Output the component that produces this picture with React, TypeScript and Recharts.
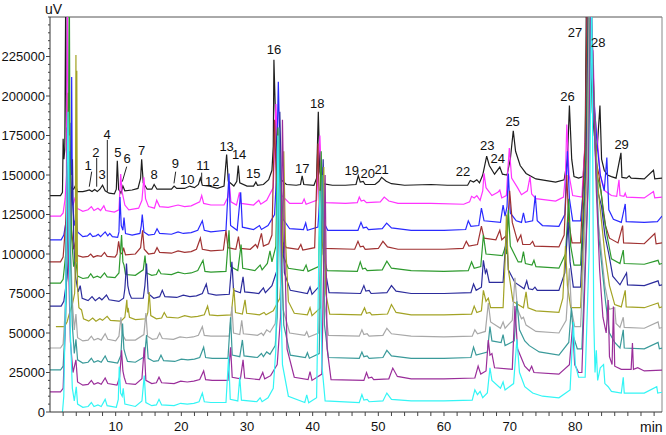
import React from 'react';
import { ComposedChart, Line, XAxis, YAxis, ReferenceLine, ReferenceDot } from 'recharts';

// Traces: flat [time(min), signal(k uV)] pairs
const blackTrace = [
0,137, 1.6,137, 1.9,139, 2.0,173, 2.12,160, 2.25,166, 2.4,270, 2.55,150, 2.7,163, 2.85,146, 3.2,142, 3.6,141, 3.9,143.5, 4.2,139.5, 5.0,139.5, 5.5,140, 6.0,140.5, 6.4,139.5, 6.8,140.8, 7.2,139.5, 7.6,141, 8.0,143.5, 8.4,140, 9.0,138.5, 9.8,138, 10.1,141, 10.25,159, 10.45,141, 10.8,138.5, 11.1,143, 11.4,140, 12.5,140.5, 13.4,141.5, 13.8,148, 13.96,160, 14.2,145, 14.8,141, 15.5,141, 15.86,144, 16.3,141, 17.5,141, 18.5,141, 18.9,143, 19.3,141.5, 20.5,141.5, 21.3,143, 22.0,142, 22.6,144, 22.9,148, 23.2,143.5, 24.3,143, 25.5,141.5, 26.5,143, 26.9,163, 27.15,146, 28.0,143, 28.45,146, 28.67,156, 28.9,145, 30,143, 31.0,143, 31.35,145.5, 31.6,143.5, 32.5,144, 33.3,147, 33.8,153, 34.0,168, 34.1,223, 34.35,185, 34.7,155, 35.2,147, 36.0,144, 37.5,143.5, 38.15,144, 38.4,149.5, 38.65,144, 40.2,143.5, 40.6,148, 40.86,190, 41.1,152, 41.5,144.5, 43,143.5, 45,143.5, 46.6,144, 46.95,149.5, 47.25,145.5, 47.7,146, 48.0,144, 49.5,144, 50.1,146, 50.5,148.5, 51.2,146, 52,144.5, 54,143.5, 58,144, 60.5,143.5, 63.6,143.5, 64.0,146.5, 64.5,145.5, 65.0,147, 65.4,145, 65.9,150, 66.5,162, 66.9,156, 67.7,150.5, 68.5,155, 68.9,150.5, 69.6,150, 70.1,160, 70.55,178, 70.9,165, 71.6,156, 72.5,151, 74,147.5, 77,145.5, 78.3,147, 78.8,160, 79.1,194, 79.45,160, 79.8,149, 80.5,148, 81.2,149, 81.5,170, 81.7,270, 82.2,240, 82.6,190, 82.9,175, 83.3,165, 83.75,194, 84.0,160, 84.4,153, 84.9,150, 85.5,149, 86.2,148, 86.95,164, 87.1,148.5, 87.8,148, 88.2,149.5, 88.5,148, 90.5,147.5, 91.9,153, 92.1,147.5, 93.2,148
];
const magentaTrace = [
0,124, 1.6,124, 2.0,126, 2.3,135, 2.5,150, 2.65,270, 2.85,160, 3.1,140, 3.5,131, 3.85,136, 4.1,129, 5,127, 5.8,128, 6.3,130, 6.7,127.5, 7.3,129, 7.7,127.5, 8.2,130.5, 8.5,127.5, 9.8,126.5, 10.5,128, 10.77,150.6, 10.95,140, 11.15,136, 11.4,131, 12,128, 13.5,129, 14.0,134, 14.3,148.6, 14.55,135, 15,130, 15.9,129, 16.25,134, 16.7,130, 18,129.5, 19.5,131, 20.5,130, 21.5,130.5, 22.8,133, 23.1,137, 23.4,132, 24.5,131, 26.5,131, 27.1,136, 27.3,145, 27.55,133, 28.4,131, 28.85,139, 29.1,132, 31.0,131, 31.8,134, 32.1,131.5, 33,134, 34.0,142, 34.4,195, 34.75,160, 35.3,137, 36.5,132, 38.4,132, 38.7,134.8, 39.0,131.5, 40.6,134, 41.1,175, 41.4,140, 42,132.5, 45,132, 46.8,132.5, 47.1,136, 47.4,133.5, 47.8,134, 48.2,132.5, 50.3,133, 50.9,136, 51.6,133.5, 53,132, 58,132, 63,131.5, 63.9,133, 64.2,136.5, 64.6,135.5, 65.0,137, 65.5,134, 65.9,140, 66.1,151, 66.4,142, 67.3,137, 68.2,139, 68.5,140.5, 68.8,135.5, 69.5,137, 69.75,155, 69.95,167, 70.3,148, 71.2,142, 71.8,137.5, 72.7,140, 73.1,149, 73.35,138, 74,135, 77,133.5, 78.2,136, 78.5,150, 78.7,182, 79.05,150, 79.6,137, 81,136, 81.6,180, 81.9,270, 82.3,210, 82.7,229, 82.95,190, 83.4,170, 83.8,150, 84.5,140, 85.5,137, 86.3,136.5, 86.65,147, 86.8,137, 87.4,136.5, 87.6,138.5, 87.8,136, 90.5,135.5, 91.9,139.5, 92.1,135.5, 93.2,136
];
const blueTrace = [
0,109, 1.7,109, 2.1,112, 2.5,122, 2.9,140, 3.1,150, 3.2,183, 3.25,150, 3.3,212, 3.4,135, 3.7,118, 4.0,124, 4.2,114, 5,111, 5.7,111.5, 6.1,113, 6.5,111, 7.0,111.5, 7.35,112.5, 7.7,111, 8.4,114, 8.8,111.5, 9.1,113, 9.5,111, 10.3,110.5, 10.5,114, 10.66,136, 10.85,118, 11.1,115, 11.27,123, 11.5,113, 12.5,112, 13.7,113, 13.9,118, 14.05,125, 14.3,114, 15,112, 15.9,112.5, 16.3,116, 16.7,113, 18.5,112.5, 19.5,114, 20.3,113, 21.5,113.5, 22.5,115, 23.2,121, 23.5,115, 24.5,114, 26.8,115, 27.26,151, 27.5,118, 28.5,115, 29.04,139, 29.3,117, 31.0,115.5, 31.9,118, 32.2,115.5, 33.2,118, 34.2,125, 34.5,150, 34.77,209, 35.1,150, 35.5,122, 36.5,116, 38.6,115.5, 38.94,119.6, 39.2,115, 40.8,117, 41.4,155, 41.7,120, 42.3,115, 46.9,115, 47.36,120, 47.7,116.5, 48.2,117, 48.5,115.5, 50.6,116, 51.27,119.5, 52,116.5, 55,115, 60,115, 63.3,115.5, 63.7,121, 64.1,117.5, 65.3,118, 65.7,129, 66.1,121, 68.6,120, 69.0,131, 69.3,124, 69.6,130, 69.8,151, 70.1,126, 71.0,121, 71.8,120, 72.1,126, 72.4,120, 73.5,121, 73.9,137, 74.2,121, 75,118, 77.5,117.5, 78.4,125, 78.8,165, 79.1,135, 79.6,121, 80.8,121, 81.6,160, 82.0,270, 82.4,230, 82.8,200, 83.3,170, 83.8,150, 84.4,140, 84.8,161, 85.1,128, 85.8,122, 87.0,120, 87.6,131.7, 87.75,120.5, 90.5,120, 92.5,120.5, 93.2,124
];
const darkRedTrace = [
0,95, 1.6,95, 2.0,98, 2.4,120, 2.65,160, 2.79,202, 2.95,150, 3.2,118, 3.6,103, 3.9,108, 4.2,99, 5,98, 5.8,98.5, 6.2,100, 6.6,98, 7.2,99, 7.8,98.5, 8.3,101, 8.7,98.5, 9.9,98, 10.2,100, 10.45,108, 10.7,101, 11.0,100, 11.2,104, 11.5,99.5, 13.0,100, 13.8,104, 14.1,115, 14.35,103, 15,100, 15.9,100.5, 16.3,104, 16.7,101, 18.5,100.5, 19.5,102, 20.5,101, 21.5,101.5, 22.3,103, 22.9,110, 23.2,103, 24.5,102, 26.4,102.5, 26.8,115, 27.1,104, 28.3,103, 28.7,111, 28.95,103.5, 30.5,103, 31.3,106, 31.6,104, 32.2,113, 32.5,105, 33.3,106.5, 33.8,112, 34.2,185, 34.5,140, 35.0,110, 36,104, 37.8,103, 38.2,106, 38.5,102.5, 40.3,104, 40.8,170, 41.1,115, 41.6,103.5, 46.4,103, 46.9,108, 47.25,104.5, 47.7,105, 48.0,103, 50.0,103.5, 50.7,108, 51.4,104.5, 53,103, 60,103, 62.9,103.5, 63.4,108, 63.8,105, 65.1,106, 65.7,117.7, 66.1,110, 67.9,109, 68.5,115, 68.8,109, 69.6,112, 70.0,140, 70.4,120, 71.2,108, 71.7,112, 72.0,106, 73.1,106, 73.5,108, 73.8,105, 77.5,104.5, 78.3,112, 78.7,150, 79.0,120, 79.5,107, 80.8,107, 81.5,170, 81.85,270, 82.3,240, 82.7,200, 83.1,160, 83.6,150, 84.2,130, 84.6,118, 85.2,110, 86.5,107, 87.2,118, 87.35,107, 90.5,106.5, 92.1,113, 92.3,106.5, 93.2,107
];
const greenTrace = [
0,81.6, 1.6,81.6, 2.0,84, 2.4,100, 2.7,140, 2.85,200, 2.94,270, 3.05,160, 3.3,110, 3.6,92, 3.9,97, 4.2,86, 5,84.5, 5.8,85, 6.2,87.5, 6.6,85, 7.2,86, 7.7,85, 8.3,88, 8.7,85.5, 9.9,85, 10.5,88, 10.9,112, 11.1,95, 11.27,93, 11.5,87, 13,86.5, 14.2,90, 14.47,99, 14.7,88, 15.5,86.5, 16.2,87, 16.55,90, 16.9,87.5, 18.5,87, 19.5,88.5, 20.5,87.5, 21.5,88, 22.5,89.5, 23.3,96, 23.6,89, 24.5,88.5, 26.8,89, 27.26,115, 27.5,92, 28.6,89.5, 29.1,106, 29.35,91, 31.2,89.5, 32.0,93, 32.3,90, 33.1,94, 33.5,102, 33.8,95, 34.4,105, 34.7,180, 35.0,140, 35.4,100, 36.3,91, 38.6,89.5, 39.0,93, 39.3,89, 40.9,92, 41.3,165, 41.6,100, 42.2,89.5, 46.8,89, 47.25,95, 47.6,90.5, 48.0,91, 48.3,89.5, 50.6,90, 51.3,95.5, 52,91, 55,89.5, 60,89, 63.7,89.5, 64.2,95, 64.6,91, 65.6,92, 66.0,112, 66.4,100, 68.9,99, 69.3,104, 69.55,100, 69.8,128, 70.1,105, 71.3,95, 71.8,95, 72.1,101.5, 72.4,94, 73.4,93, 73.7,96, 74.0,92, 77.5,91, 78.5,100, 79.0,135, 79.3,105, 79.8,93, 80.8,93, 81.6,160, 82.05,270, 82.5,230, 82.9,190, 83.3,150, 83.9,140, 84.3,125, 84.9,110, 85.5,97, 86.8,94, 87.3,102.5, 87.45,94, 90.5,93.5, 92.6,96, 92.8,93.5, 93.2,94
];
const navyTrace = [
0,67, 1.7,67, 2.1,70, 2.6,85, 3.0,110, 3.3,140, 3.42,160, 3.6,110, 3.9,85, 4.3,76, 4.6,80, 4.9,72, 5.8,70.5, 6.4,73, 6.9,70.5, 7.5,72.5, 7.9,71, 8.6,74, 9.0,71, 10.5,70, 11.2,72, 11.4,78, 11.65,94, 11.85,80, 12.1,75, 12.4,72, 14.2,72, 14.45,80, 14.7,94, 14.95,75, 15.8,72, 16.7,73, 17.1,77, 17.5,73, 19.3,72.5, 20.3,74, 21.3,73, 22.3,73.5, 23.2,75, 23.8,81, 24.1,75, 25.3,74, 27.3,74.5, 27.7,95, 27.95,77, 29.0,75.5, 29.4,85.6, 29.65,76, 31.8,75, 32.5,78.5, 32.8,75.5, 33.8,80, 34.6,90, 35.0,190, 35.3,130, 35.7,88, 36.6,77, 39.2,75, 39.6,79, 39.9,74.5, 41.1,80, 41.6,160, 41.9,90, 42.5,75.5, 47.3,75, 47.8,80, 48.1,76.5, 48.6,77, 48.9,75, 51.3,75.5, 52.0,80, 52.7,76.5, 55,75, 60,75, 64.1,75.5, 64.5,81, 64.9,77, 65.7,79, 66.0,96, 66.3,88, 66.5,90, 66.9,82, 69.0,82, 69.5,115, 69.8,90, 70.8,82, 72.2,78, 72.6,83, 72.9,78, 73.5,77.5, 73.85,79, 74.2,77, 77.5,77, 78.4,88, 78.9,120, 79.2,95, 79.7,79, 80.8,79, 81.7,160, 82.1,270, 82.5,220, 82.9,180, 83.4,140, 84.0,130, 84.5,112, 85.1,100, 85.7,86, 86.8,80.5, 87.8,88, 87.95,80.5, 90.5,80, 92.6,83, 92.8,80, 93.2,80.5
];
const oliveTrace = [
0.9,54, 2.2,54, 2.6,57, 3.0,63, 3.4,68, 3.75,75, 3.85,90, 3.95,226, 4.02,95, 4.08,216, 4.18,80, 4.4,66, 4.8,64.6, 5.1,59, 5.9,57.5, 6.5,59.5, 7.0,57.5, 7.6,59, 8.0,58, 8.7,60.5, 9.2,58, 10.8,57.5, 11.4,60, 11.7,71, 11.8,63, 11.9,66, 12.1,60, 13,58.5, 14.6,59, 14.9,63, 15.1,76, 15.35,61, 16.2,59, 17.0,59.5, 17.4,63, 17.8,60, 19.5,59.5, 20.5,61, 21.5,60, 22.5,60.5, 23.5,61.5, 24.0,67, 24.3,61.5, 25.5,61, 27.6,61.5, 28.0,78.5, 28.25,63, 29.3,62, 29.7,71, 29.95,62.5, 31.9,61.5, 32.6,63, 32.9,61.5, 34.0,64, 35.0,72, 35.4,100, 35.6,165, 35.85,110, 36.3,70, 37.2,62.5, 39.2,61.5, 39.6,66, 39.9,61, 41.2,66, 41.7,155, 42.0,75, 42.6,62, 47.4,61.5, 47.9,66, 48.2,62.5, 48.7,63, 49.0,61.5, 51.4,62, 52.0,68, 52.7,63, 55,61.5, 60,61.5, 64.2,62, 64.6,67, 65.0,63, 65.7,64, 66.0,77, 66.4,70, 66.75,72, 67.1,66, 69.0,66, 69.35,100, 69.5,125, 69.8,90, 70.5,70, 72.1,66, 72.5,76, 72.8,66, 74,64, 77.5,63, 78.1,72, 78.5,105, 78.8,80, 79.3,66, 80.8,66, 81.8,160, 82.2,270, 82.6,230, 83.0,180, 83.5,140, 84.0,120, 84.5,100, 85.2,80, 86.0,68, 87.0,66.5, 87.6,77, 87.75,66.5, 90.5,66, 92.6,69, 92.8,66, 93.2,66.5
];
const grayTrace = [
0,40.5, 1.6,40.5, 2.0,43, 2.4,70, 2.7,130, 2.9,175, 3.1,110, 3.4,70, 3.7,52, 3.95,62, 4.2,47, 5,45, 5.8,45.5, 6.3,48, 6.7,45.5, 7.3,46.5, 7.8,45.5, 8.4,49.5, 8.8,46, 10.0,45, 10.5,48, 10.8,60, 11.0,50, 11.2,48, 11.5,45.5, 13,45.5, 14.3,49, 14.6,62.6, 14.85,48, 15.6,46, 16.3,46.5, 16.7,50, 17.1,46.5, 18.8,46, 19.8,47.5, 20.8,47, 21.8,47.5, 22.6,48.5, 23.2,54, 23.5,48.5, 24.5,48, 27.3,48, 27.7,66.7, 27.95,50, 28.9,49, 29.2,58, 29.45,49.5, 31.6,48.5, 32.2,50, 32.5,48.5, 33.0,52, 33.5,50.5, 34.3,56, 34.6,70, 34.8,175, 35.1,110, 35.5,65, 36.5,50, 38.8,48.5, 39.1,50.8, 39.4,47.5, 40.9,50, 41.5,150, 41.8,70, 42.4,48.5, 47.1,48, 47.5,52, 47.8,49, 48.3,49.5, 48.6,48, 50.7,48.5, 51.3,53, 52,49.5, 55,48, 60,47.5, 64.3,48, 64.7,52, 65.1,49.5, 66.3,51, 66.75,69, 67.1,57, 68.6,53, 69.0,57, 69.3,53, 70.4,58, 70.8,85, 71.2,65, 71.8,59, 72.1,60, 72.5,55, 74,51, 77.5,50, 78.6,58, 79.1,91, 79.4,65, 79.9,54, 80.8,54, 81.8,150, 82.15,270, 82.6,230, 83.0,170, 83.5,120, 84.0,100, 84.5,80, 85.2,65, 86.0,66, 86.2,56, 86.8,53.5, 87.3,60, 87.45,53.5, 90.5,53, 92.6,57, 92.8,53, 93.2,53.5
];
const tealTrace = [
0,26.6, 1.6,26.6, 2.0,29, 2.4,60, 2.7,120, 2.9,165, 3.1,100, 3.4,55, 3.7,37, 3.95,46, 4.2,33, 5,31, 5.8,31.5, 6.3,34, 6.7,31.5, 7.3,32.5, 7.8,31.5, 8.4,35.5, 8.8,32, 10.3,31, 10.8,36, 11.05,56, 11.25,40, 11.5,36, 11.8,32, 13,31.5, 14.4,35, 14.7,48.7, 14.95,34, 15.8,32, 16.5,32.5, 16.9,36, 17.3,32.5, 19.0,32, 20.0,33.5, 21.0,33, 22.0,33.5, 22.8,34.5, 23.4,41, 23.7,34.5, 24.7,34, 27.1,34, 27.5,60, 27.75,36, 28.9,35, 29.3,45.6, 29.55,35.5, 31.6,34.5, 32.2,37, 32.5,35, 33.0,38, 33.5,36.5, 34.3,42, 34.6,60, 34.9,180, 35.2,110, 35.6,55, 36.6,36, 38.9,34.5, 39.2,37.5, 39.5,34, 41.0,37, 41.5,150, 41.8,55, 42.4,34.5, 47.1,34, 47.5,38, 47.8,35, 48.3,35.5, 48.6,34, 50.7,34.5, 51.3,39, 52,35.5, 55,34, 60,34, 64.1,34.5, 64.5,41, 64.9,36, 66.6,38, 67.0,54, 67.3,45, 68.7,44, 69.0,49, 69.3,42, 70.7,45, 71.1,70, 71.5,52, 72.3,45, 73,42, 74.5,38, 77.5,36, 79.0,44, 79.4,66, 79.7,48, 80.3,40, 81.0,40, 82.0,150, 82.3,270, 82.7,220, 83.1,160, 83.6,110, 84.1,90, 84.6,70, 85.2,50, 86.0,44, 86.8,40.5, 87.3,52, 87.45,40.5, 90.5,40, 92.6,44, 92.8,40, 93.2,40.5
];
const purpleTrace = [
0,12.7, 1.6,12.7, 2.0,15, 2.3,50, 2.5,120, 2.62,180, 2.8,100, 3.1,45, 3.5,25, 3.95,33, 4.2,19, 5,17, 5.8,17.5, 6.3,20, 6.7,17.5, 7.3,18.5, 7.8,17.5, 8.4,21.5, 8.8,18, 10.2,17, 10.6,22, 10.9,39, 11.1,26, 11.3,22, 11.6,18, 13,17.5, 14.0,21, 14.35,41, 14.6,20, 15.5,18, 16.2,18.5, 16.6,22, 17.0,18.5, 18.9,18, 19.9,19.5, 20.9,19, 21.9,19.5, 22.8,20.5, 23.4,26, 23.7,20.5, 24.7,20, 27.1,20, 27.5,41, 27.75,22, 29.0,21, 29.4,33, 29.65,21.5, 31.9,20.5, 32.4,25, 32.7,21, 33.6,23, 34.6,30, 35.1,60, 35.4,185, 35.7,110, 36.1,40, 37.2,22, 39.3,20.5, 39.6,25.5, 39.9,20, 41.4,24, 41.9,150, 42.2,40, 42.8,20.5, 47.8,20, 48.2,25, 48.5,21.5, 49.0,22, 49.3,20.5, 51.6,21, 52.2,27.8, 52.9,22.5, 55,21, 60,21, 64.7,21.5, 65.2,29, 65.6,24, 66.4,26, 66.75,45.6, 67.0,36, 67.3,37, 67.7,28, 70.4,27, 70.8,67, 71.2,40, 72.3,29, 73.0,26, 73.35,29, 73.7,25, 77.5,24, 79.1,30, 79.6,55, 79.9,30, 80.5,25, 81.0,25, 82.0,150, 82.4,270, 82.8,200, 83.2,140, 83.7,90, 84.2,60, 84.7,50, 85.0,70.9, 85.2,35, 85.6,30, 85.8,66.7, 86.0,29, 87.0,27, 88.5,27, 88.7,43.7, 88.85,27, 89.5,28, 90.5,26, 93.2,26.5
];
const cyanTrace = [
1.9,0, 2.1,10, 2.4,80, 2.6,150, 2.75,190, 2.9,120, 3.1,50, 3.4,15, 3.7,7, 4.0,16, 4.2,5, 5,3, 5.8,3.5, 6.3,6, 6.7,3.5, 7.3,4.5, 7.8,3.5, 8.4,8, 8.7,4, 10.1,3, 10.4,8, 10.55,28.7, 10.75,12, 11.0,10, 11.15,15, 11.4,5, 13,3.5, 14.0,7, 14.35,23, 14.6,6, 15.5,4, 16.2,4.5, 16.6,8, 17.0,4.5, 18.9,4, 19.9,5.5, 20.9,5, 21.9,5.5, 22.7,6.5, 23.2,12, 23.5,6.5, 24.5,6, 26.8,6, 27.2,35, 27.45,8, 28.6,7, 28.9,22, 29.15,7.5, 31.5,6.5, 32.0,9, 32.3,6.5, 33.2,9, 34.0,15, 34.4,40, 34.7,175, 35.0,100, 35.4,30, 36.3,10, 38.8,6, 39.1,10.8, 39.4,5.8, 40.6,9, 41.1,140, 41.4,30, 41.9,7, 47.1,6, 47.5,11, 47.8,7.5, 48.3,8, 48.6,6.5, 50.7,7, 51.3,12, 52,8, 55,7, 60,7, 64.3,7.5, 64.7,14, 65.1,11, 65.5,13, 65.9,9, 66.6,12, 67.0,28, 67.3,20, 68.6,15, 69.0,19, 69.3,14, 70.6,18, 71.1,46, 71.5,25, 72.3,16, 73.5,12, 75,10, 77.5,9, 79.2,14, 79.7,57, 80.0,30, 80.5,22, 81.5,22, 82.1,100, 82.5,270, 82.8,60, 83.0,25, 83.2,39, 83.4,20, 83.8,28, 84.3,30, 84.5,18, 85.0,16, 85.5,13, 87.0,12, 87.3,22, 87.45,12, 90.5,12, 92.4,16, 92.55,12, 93.2,12.5
];

const traceNames = ['black', 'magenta', 'blue', 'darkred', 'green', 'navy', 'olive', 'gray', 'teal', 'purple', 'cyan'];
const traceValues = [blackTrace, magentaTrace, blueTrace, darkRedTrace, greenTrace, navyTrace, oliveTrace, grayTrace, tealTrace, purpleTrace, cyanTrace];
const traceColors = ['#1e1e1e', '#ff33ff', '#2a2aff', '#a03232', '#2e9a2e', '#2c2c9c', '#a3a325', '#a8a8a8', '#3a9a9a', '#9a2e9a', '#33f5f5'];

// Peak labels: [name, time, signal(k uV)] at label centres
const peakLabels: [string, number, number][] = [
  ['1', 5.79, 156.3], ['2', 7.0, 164.6], ['3', 7.92, 150.6], ['4', 8.68, 175.8], ['5', 10.35, 164.6],
  ['6', 11.73, 160.3], ['7', 13.97, 165.8], ['8', 15.84, 150.6], ['9', 19.1, 157.6], ['10', 20.9, 147.5],
  ['11', 23.3, 156.3], ['12', 24.7, 145.8], ['13', 26.9, 168.4], ['14', 28.8, 162.8], ['15', 30.96, 151.0],
  ['16', 34.1, 229.6], ['17', 38.4, 154.5], ['18', 40.7, 195.4], ['19', 45.95, 153.2], ['20', 48.4, 151.0],
  ['21', 50.5, 153.6], ['22', 62.9, 152.0], ['23', 66.6, 169.0], ['24', 68.2, 160.8], ['25', 70.45, 184.0],
  ['26', 78.8, 199.6], ['27', 79.95, 240.3], ['28', 83.5, 233.8], ['29', 87.05, 169.4],
];
// Leader lines: [t1, v1, t2, v2] (k uV)
const leaderLines: [number, number, number, number][] = [
  [6.35, 152.1, 5.98, 142.6], [7.11, 160.8, 7.11, 142.6], [8.73, 172.2, 8.73, 139.4],
  [11.68, 155.3, 11.01, 145.8], [19.14, 152.1, 18.88, 144.7], [23.1, 151.5, 23.1, 145.1],
];

const yMajorTicks = [0, 25000, 50000, 75000, 100000, 125000, 150000, 175000, 200000, 225000];
const yAllTicks = Array.from({ length: 51 }, (_, i) => i * 5000);
const xMajorTicks = [10, 20, 30, 40, 50, 60, 70, 80];
const xAllTicks = Array.from({ length: 46 }, (_, i) => (i + 1) * 2);

const toPoints = (flat: number[]) => {
  const out: { t: number; v: number }[] = [];
  for (let i = 0; i < flat.length; i += 2) out.push({ t: flat[i], v: flat[i + 1] * 1000 });
  return out;
};

const FONT = 'Arial, "Liberation Sans", sans-serif';

const YTick = (props: any) => {
  const { x, y, payload } = props;
  const v = payload.value;
  const major = yMajorTicks.includes(v);
  return (
    <g>
      <line x1={x - (major ? 4 : 2)} x2={x} y1={y} y2={y} stroke="#444" strokeWidth={1} />
      {major && (
        <text x={x - 5} y={y} textAnchor="end" dominantBaseline="central" fontSize={13} fontFamily={FONT} fill="#111">
          {v}
        </text>
      )}
    </g>
  );
};

const XTick = (props: any) => {
  const { x, y, payload } = props;
  const v = payload.value;
  const major = xMajorTicks.includes(v);
  return (
    <g>
      <line x1={x} x2={x} y1={y} y2={y + 4} stroke="#444" strokeWidth={1} />
      {major && (
        <text x={x} y={y + 14} textAnchor="middle" dominantBaseline="central" fontSize={13} fontFamily={FONT} fill="#111">
          {v}
        </text>
      )}
    </g>
  );
};

export default function App() {
  const series = traceNames.map((n, i) => ({ name: n, data: toPoints(traceValues[i]), color: traceColors[i] }));
  return (
    <div style={{ position: 'absolute', left: 0, top: 0, width: 666, height: 435, background: '#fff' }}>
      <ComposedChart width={666} height={435} margin={{ top: 17, right: 4, bottom: 0, left: 0 }}>
        <XAxis
          type="number"
          dataKey="t"
          domain={[0, 93.2]}
          allowDataOverflow
          ticks={xAllTicks}
          interval={0}
          tick={<XTick />}
          tickLine={false}
          tickSize={0}
          tickMargin={0}
          height={23}
          axisLine={{ stroke: '#333' }}
        />
        <YAxis
          type="number"
          dataKey="v"
          domain={[0, 250000]}
          allowDataOverflow
          ticks={yAllTicks}
          interval={0}
          tick={<YTick />}
          tickLine={false}
          tickSize={0}
          tickMargin={0}
          width={50}
          axisLine={{ stroke: '#333' }}
        />
        <ReferenceLine y={250000} stroke="#555" strokeWidth={1} />
        <ReferenceLine x={93.2} stroke="#888" strokeWidth={1} />
        {series.map((s) => (
          <Line
            key={s.name}
            data={s.data}
            dataKey="v"
            type="linear"
            stroke={s.color}
            strokeWidth={1.2}
            dot={false}
            activeDot={false}
            isAnimationActive={false}
          />
        ))}
        {leaderLines.map((l, i) => (
          <ReferenceLine
            key={'ll' + i}
            segment={[{ x: l[0], y: l[1] * 1000 }, { x: l[2], y: l[3] * 1000 }]}
            stroke="#222"
            strokeWidth={1}
          />
        ))}
        {peakLabels.map((p) => (
          <ReferenceDot
            key={'pl' + p[0]}
            x={p[1]}
            y={p[2] * 1000}
            r={0}
            fill="none"
            stroke="none"
            ifOverflow="visible"
            label={{ value: p[0], position: 'center', fontSize: 13, fill: '#111', fontFamily: FONT }}
          />
        ))}
      </ComposedChart>
      <div style={{ position: 'absolute', left: 45, top: 1, fontFamily: FONT, fontSize: 14, color: '#111', lineHeight: '16px' }}>uV</div>
      <div style={{ position: 'absolute', left: 640, top: 419, fontFamily: FONT, fontSize: 14, color: '#111', lineHeight: '16px' }}>min</div>
    </div>
  );
}
